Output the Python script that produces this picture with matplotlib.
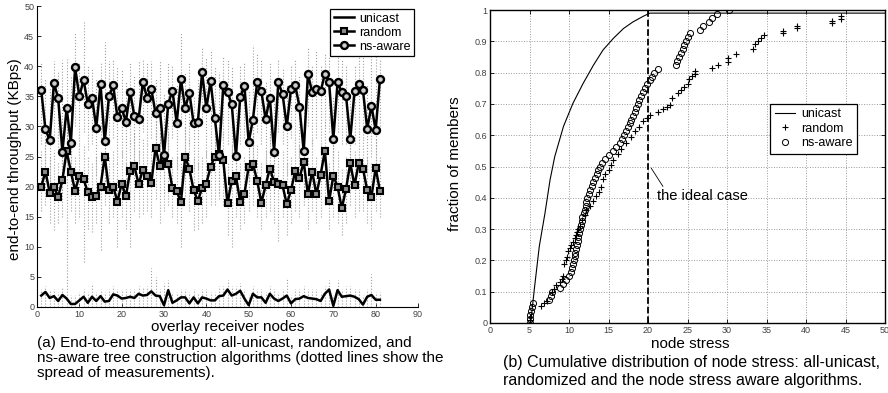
import numpy as np
import matplotlib
matplotlib.use("Agg")
import matplotlib.pyplot as plt

plt.rcParams['font.family'] = ['Liberation Sans', 'DejaVu Sans']

# ---------------- (a) throughput data ----------------
nodes = list(range(1, 82))
ns_aware = [36.0, 29.5, 27.7, 37.2, 34.7, 25.8, 33.0, 27.3, 39.8, 35.0,
            37.7, 33.8, 34.8, 29.8, 37.0, 27.5, 35.0, 36.8, 31.5, 33.0,
            30.8, 35.7, 31.7, 31.2, 37.3, 34.8, 36.2, 32.2, 33.1, 25.2,
            33.8, 35.9, 30.6, 37.8, 33.0, 35.6, 30.5, 30.7, 39.0, 33.0,
            37.5, 31.4, 25.2, 36.8, 35.7, 33.7, 25.1, 34.9, 36.7, 27.4,
            31.1, 37.3, 35.8, 31.2, 34.8, 25.8, 37.3, 35.4, 30.0, 36.2,
            36.8, 33.3, 25.9, 38.7, 35.7, 36.2, 35.8, 38.7, 37.3, 27.9,
            37.3, 35.7, 35.1, 27.9, 35.8, 37.0, 36.0, 29.6, 33.4, 29.4,
            37.8]
random_tp = [20.0, 22.5, 19.0, 20.0, 18.3, 21.1, 25.9, 22.5, 19.3, 21.8,
             21.2, 19.1, 18.2, 18.5, 20.0, 25.0, 19.4, 20.0, 17.5, 20.5,
             18.4, 22.6, 23.4, 20.4, 22.8, 21.8, 20.6, 26.4, 23.5, 24.7,
             23.7, 19.7, 19.3, 17.4, 25.0, 22.9, 19.4, 17.6, 19.8, 20.5,
             23.3, 25.0, 25.4, 24.4, 17.2, 21.0, 21.7, 17.5, 18.8, 23.3,
             23.8, 21.0, 17.3, 20.2, 23.0, 20.8, 20.4, 20.2, 17.1, 19.4,
             22.6, 21.4, 24.1, 18.7, 22.5, 18.7, 22.0, 25.9, 17.6, 21.8,
             20.0, 16.4, 19.6, 23.9, 20.2, 23.9, 23.0, 19.4, 18.3, 23.1,
             19.3]
unicast_tp = [1.9, 2.5, 1.5, 1.8, 1.0, 2.0, 1.4, 0.5, 0.5, 1.1,
              1.7, 0.7, 1.7, 1.0, 1.8, 0.9, 1.0, 2.1, 1.9, 1.4,
              1.5, 1.7, 1.5, 2.2, 1.9, 2.0, 2.6, 1.9, 1.8, 0.3,
              2.8, 0.7, 1.1, 1.6, 1.6, 0.6, 1.6, 0.6, 1.6, 1.4,
              1.1, 1.1, 1.8, 1.9, 2.9, 1.9, 2.2, 2.7, 1.4, 0.3,
              2.2, 1.6, 1.6, 0.7, 2.2, 1.4, 1.0, 1.4, 1.9, 0.6,
              1.3, 1.4, 1.8, 1.5, 1.4, 1.3, 1.0, 2.2, 2.9, 0.2,
              2.8, 1.7, 1.8, 1.9, 1.7, 1.3, 0.4, 1.7, 2.0, 1.2,
              1.2]
# spread of measurements
ns_lo = [27, 22, 21, 28, 26, 19, 24, 21, 30, 27,
         29, 26, 27, 22, 28, 20, 27, 28, 24, 25,
         23, 27, 24, 24, 29, 27, 28, 24, 25, 19,
         26, 28, 23, 30, 25, 27, 23, 23, 31, 25,
         29, 24, 19, 28, 27, 25, 19, 27, 28, 21,
         24, 29, 27, 24, 27, 19, 29, 27, 22, 28,
         28, 25, 20, 30, 27, 28, 27, 30, 29, 21,
         29, 27, 27, 21, 27, 29, 28, 22, 25, 22,
         29]
ns_hi = [40.5, 38.0, 36.5, 40.8, 39.0, 41.0, 41.2, 38.5, 45.7, 40.6,
         47.7, 40.0, 39.5, 38.0, 40.5, 44.0, 40.8, 41.0, 40.0, 39.5,
         37.5, 40.5, 38.5, 41.0, 41.0, 40.5, 40.8, 38.0, 41.0, 35.5,
         40.5, 40.0, 37.0, 45.7, 39.0, 40.5, 35.0, 38.0, 43.2, 41.5,
         42.5, 40.0, 39.0, 41.5, 41.0, 40.0, 33.0, 40.0, 40.5, 36.0,
         43.5, 42.0, 41.0, 37.5, 40.5, 35.0, 41.0, 39.5, 37.0, 40.0,
         41.0, 38.5, 33.0, 43.0, 40.0, 42.7, 40.0, 42.0, 41.5, 35.0,
         41.5, 41.0, 40.0, 35.5, 40.0, 41.5, 41.5, 37.0, 49.9, 47.0,
         41.0]
rnd_lo = [16, 17, 14, 12.8, 14, 15, 5.0, 16, 14, 15,
          7.5, 13, 12.5, 14, 9.5, 17, 14, 15, 10, 15,
          13, 10, 16, 15, 15.5, 16, 15, 18, 14, 16,
          17, 15, 14, 10, 18, 16, 12.8, 13, 14, 15,
          17, 17, 18, 17, 12, 10, 15, 13, 14, 16,
          17, 15, 13, 15, 16, 14, 11, 15, 12, 14,
          16, 15, 17, 13, 16, 14, 15, 17, 13, 15,
          14, 12, 14, 17, 15, 16, 16, 14, 13, 16,
          15]
rnd_hi = [26, 28, 25, 26, 24, 27, 30, 28, 25, 27,
          27, 25, 24, 25, 26, 30, 25, 26, 24, 26,
          24, 28, 29, 26, 28, 27, 26, 31, 29, 30,
          29, 25, 25, 24, 30, 28, 25, 24, 25, 26,
          29, 30, 30, 29, 24, 27, 27, 24, 25, 29,
          29, 27, 24, 26, 29, 27, 26, 26, 24, 25,
          28, 27, 29, 25, 28, 25, 27, 31, 24, 27,
          26, 23, 25, 29, 26, 29, 28, 25, 24, 28,
          25]
uni_hi = [3.0, 3.5, 2.8, 3.0, 2.5, 3.2, 5.0, 2.0, 2.0, 2.5,
          3.0, 2.5, 3.9, 2.5, 3.0, 2.5, 3.0, 3.5, 3.0, 2.8,
          3.0, 3.0, 3.0, 3.5, 3.2, 3.5, 6.4, 5.0, 3.0, 4.0,
          4.5, 2.5, 2.5, 3.0, 3.0, 2.5, 3.0, 2.2, 3.0, 3.0,
          2.5, 2.5, 3.5, 3.5, 4.5, 3.5, 3.5, 4.0, 3.0, 2.0,
          3.5, 3.0, 3.0, 2.5, 3.5, 3.0, 2.5, 3.0, 4.7, 2.0,
          3.0, 3.0, 3.5, 3.0, 3.0, 3.0, 2.5, 3.5, 4.5, 2.0,
          4.5, 3.0, 3.5, 3.5, 3.0, 3.0, 2.0, 3.0, 5.5, 2.5,
          2.5]

# ---------------- (b) node stress CDF data ----------------
uni_stress = [5.0, 5.15, 5.6, 6.24, 6.96, 7.6, 8.2, 9.3, 10.5, 11.8, 13.1,
              14.3, 15.6, 16.9, 18.1, 19.4, 20.25, 50.0]
uni_frac = [0.0, 0.0, 0.106, 0.245, 0.351, 0.457, 0.532, 0.628, 0.702, 0.766,
            0.824, 0.872, 0.909, 0.941, 0.962, 0.98, 0.99, 0.99]

rnd_stress = [5.0, 5.0, 5.1, 6.5, 6.8, 7.2, 7.8, 8.1, 8.4, 8.8, 9.1, 9.3,
              9.4, 9.6, 9.8, 9.9, 10.1, 10.3, 10.5, 10.7, 10.9, 11.0, 11.2, 11.4,
              11.7, 12.0, 12.2, 12.6, 13.0, 13.4, 13.8, 14.0, 14.3, 14.6, 15.0,
              15.3, 15.6, 16.2, 16.6, 17.2, 17.8, 18.4, 18.8, 19.4, 19.9, 20.3,
              21.3, 21.9, 22.4, 22.8, 23.0, 23.8, 24.2, 24.6, 25.0, 25.2, 25.6,
              25.9, 25.9, 28.1, 28.8, 30.1, 30.1, 31.1, 33.3, 33.6, 33.9, 34.3,
              34.7, 37.1, 37.1, 38.8, 38.8, 43.3, 43.3, 44.4, 44.4]
rnd_frac = [0.0, 0.01, 0.02, 0.055, 0.065, 0.07, 0.10, 0.11, 0.12, 0.13, 0.14, 0.15,
            0.19, 0.20, 0.21, 0.23, 0.24, 0.25, 0.26, 0.27, 0.28, 0.29, 0.30, 0.31,
            0.33, 0.345, 0.36, 0.375, 0.39, 0.405, 0.42, 0.435, 0.46, 0.475, 0.49,
            0.505, 0.52, 0.54, 0.555, 0.575, 0.595, 0.615, 0.627, 0.645, 0.655, 0.665,
            0.675, 0.685, 0.69, 0.695, 0.72, 0.735, 0.745, 0.755, 0.765, 0.78, 0.79,
            0.795, 0.805, 0.815, 0.825, 0.835, 0.848, 0.86, 0.875, 0.89, 0.90, 0.91,
            0.92, 0.926, 0.934, 0.942, 0.95, 0.958, 0.966, 0.972, 0.98]

ns_stress = [5.0, 5.0, 5.1, 5.2, 5.3, 5.4, 7.5, 7.7, 7.9, 8.9,
             9.2, 9.6, 10.0, 10.3, 10.4, 10.5, 10.6, 10.7, 10.8, 10.9,
             11.0, 11.1, 11.2, 11.3, 11.4, 11.5, 11.6, 11.7, 11.9, 12.0,
             12.1, 12.2, 12.3, 12.5, 12.7, 12.9, 13.1, 13.3, 13.5, 13.7,
             13.9, 14.2, 14.6, 15.0, 15.6, 16.0, 16.4, 16.7, 16.9, 17.2,
             17.5, 17.7, 17.9, 18.1, 18.3, 18.5, 18.7, 18.9, 19.1, 19.4,
             19.6, 19.9, 20.2, 20.5, 20.8, 21.3, 23.6, 23.7, 23.9, 24.2,
             24.4, 24.6, 24.8, 25.0, 25.3, 26.6, 27.0, 27.7, 28.1, 28.7,
             30.3]
ns_frac = [i / 80 for i in range(len(ns_stress))]

# ---------------- figure ----------------
W, H = 888, 393
fig = plt.figure(figsize=(W / 100, H / 100), dpi=100)

def fx(px):
    return px / W

def fy(py):
    return 1 - py / H

LABEL_FS = 11

# (a)
ax1 = fig.add_axes([fx(37), fy(307), (418 - 37) / W, (307 - 6) / H])
ax1.vlines(nodes, ns_lo, ns_hi, colors='0.62', linestyles=':', lw=0.8)
ax1.vlines(nodes, rnd_lo, rnd_hi, colors='0.62', linestyles=':', lw=0.8)
ax1.vlines(nodes, 0, uni_hi, colors='0.62', linestyles=':', lw=0.8)
l_uni, = ax1.plot(nodes, unicast_tp, '-', color='black', lw=1.8, label='unicast')
l_rnd, = ax1.plot(nodes, random_tp, '-s', color='black', lw=1.8, ms=4.6,
                  mfc='0.55', mec='black', mew=1.5, label='random')
l_ns, = ax1.plot(nodes, ns_aware, '-o', color='black', lw=1.8, ms=5.0,
                 mfc='0.8', mec='black', mew=1.7, label='ns-aware')
ax1.set_xlim(0, 90)
ax1.set_ylim(0, 50)
ax1.set_xticks(range(0, 91, 10))
ax1.set_yticks(range(0, 51, 5))
ax1.spines['top'].set_visible(False)
ax1.spines['right'].set_visible(False)
for s in ('left', 'bottom'):
    ax1.spines[s].set_linewidth(0.8)
ax1.tick_params(direction='in', labelsize=6.5, length=3, width=0.6,
                labelcolor='0.25', pad=2)
leg1 = ax1.legend(loc='upper right', bbox_to_anchor=(0.99, 0.99),
                  borderaxespad=0, fancybox=False, edgecolor='black',
                  fontsize=9, handlelength=1.6, handletextpad=0.4,
                  labelspacing=0.15, borderpad=0.3, framealpha=1)
leg1.get_frame().set_linewidth(0.9)

fig.text(fx(15), fy(159), 'end-to-end throughput (KBps)', rotation=90,
         ha='center', va='center', fontsize=LABEL_FS)
fig.text(fx(228), fy(327), 'overlay receiver nodes', ha='center',
         va='center', fontsize=LABEL_FS)
cap_a = ['(a) End-to-end throughput: all-unicast, randomized, and',
         'ns-aware tree construction algorithms (dotted lines show the',
         'spread of measurements).']
for i, t in enumerate(cap_a):
    fig.text(fx(37), fy(343 + 15 * i), t, ha='left', va='center', fontsize=11.0)

# (b)
ax2 = fig.add_axes([fx(490), fy(323), (885 - 490) / W, (323 - 10) / H])
ax2.grid(True, linestyle=':', color='0.6', lw=0.7)
ax2.set_axisbelow(True)
ax2.plot(uni_stress, uni_frac, '-', color='black', lw=0.8, label='unicast')
ax2.plot(rnd_stress, rnd_frac, '+', color='black', ms=4.3, mew=0.8,
         label='random', ls='none')
ax2.plot(ns_stress, ns_frac, 'o', mfc='none', mec='black', ms=4.4, mew=0.7,
         label='ns-aware', ls='none')
ax2.axvline(20, ymin=0, ymax=1, color='black', ls='--', lw=1.3)
ax2.set_xlim(0, 50)
ax2.set_ylim(0, 1)
ax2.set_xticks(range(0, 51, 5))
ax2.set_yticks([i / 10 for i in range(11)])
ax2.set_yticklabels(['0', '0.1', '0.2', '0.3', '0.4', '0.5', '0.6', '0.7',
                     '0.8', '0.9', '1'])
for s in ax2.spines.values():
    s.set_linewidth(1.0)
ax2.tick_params(direction='in', labelsize=6.5, length=3, width=0.6,
                labelcolor='0.25', pad=2, top=True, right=True)
ax2.annotate('the ideal case', xy=(20.4, 0.495), xytext=(21.2, 0.405),
             fontsize=10.5, ha='left', va='center',
             arrowprops=dict(arrowstyle='-', lw=0.6, color='black',
                             shrinkA=0, shrinkB=0,
                             relpos=(0.08, 1.0)))
leg2 = ax2.legend(loc='upper right', bbox_to_anchor=(0.929, 0.70),
                  borderaxespad=0, fancybox=False, edgecolor='black',
                  fontsize=9, handlelength=1.6, handletextpad=0.5,
                  labelspacing=0.2, borderpad=0.35, framealpha=1)
leg2.get_frame().set_linewidth(0.9)

fig.text(fx(455), fy(164), 'fraction of members', rotation=90,
         ha='center', va='center', fontsize=LABEL_FS)
fig.text(fx(690), fy(344), 'node stress', ha='center', va='center',
         fontsize=LABEL_FS)
cap_b = ['(b) Cumulative distribution of node stress: all-unicast,',
         'randomized and the node stress aware algorithms.']
for i, t in enumerate(cap_b):
    fig.text(fx(503), fy(363 + 17 * i), t, ha='left', va='center', fontsize=11.5)

fig.savefig('out.png', dpi=100)
